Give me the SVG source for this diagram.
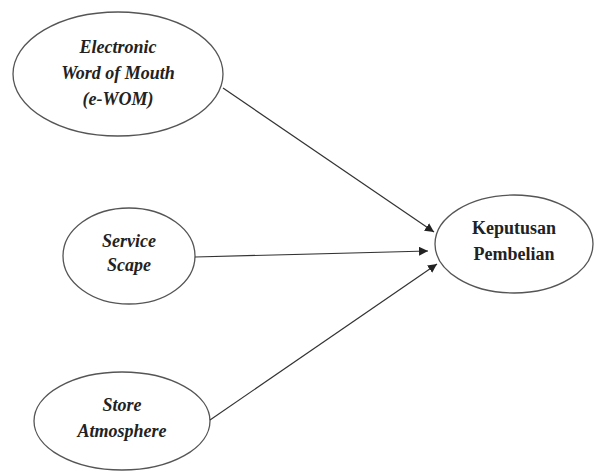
<svg xmlns="http://www.w3.org/2000/svg" width="598" height="475" viewBox="0 0 598 475">
<style>
.node ellipse{fill:#fff;stroke:#555;stroke-width:1.3}
.t{font-family:"Liberation Serif","DejaVu Serif",serif;font-size:18px;font-weight:bold;fill:#222;text-anchor:middle}
.i{font-style:italic}
.edge{stroke:#333;stroke-width:1.2;fill:none;marker-end:url(#ah)}
</style>
<defs>
<marker id="ah" viewBox="0 0 10 10" refX="10" refY="5" markerWidth="9" markerHeight="9" markerUnits="userSpaceOnUse" orient="auto">
<path d="M0,0 L10,5 L0,10 z" fill="#222"/>
</marker>
</defs>
<rect width="598" height="475" fill="#fff"/>
<g id="n1" class="node">
<ellipse cx="118" cy="74" rx="105" ry="62"/>
<text class="t i" x="118" y="53">Electronic</text>
<text class="t i" x="118" y="79">Word of Mouth</text>
<text class="t i" x="118" y="105">(e-WOM)</text>
</g>
<g id="n2" class="node">
<ellipse cx="129" cy="256" rx="66" ry="48"/>
<text class="t i" x="129" y="247">Service</text>
<text class="t i" x="129" y="271">Scape</text>
</g>
<g id="n3" class="node">
<ellipse cx="122" cy="421" rx="88" ry="49"/>
<text class="t i" x="122" y="411">Store</text>
<text class="t i" x="122" y="437">Atmosphere</text>
</g>
<g id="n4" class="node">
<ellipse cx="514" cy="244" rx="79" ry="49"/>
<text class="t" x="514" y="234">Keputusan</text>
<text class="t" x="514" y="260">Pembelian</text>
</g>
<g id="edges">
<line class="edge" x1="223" y1="88" x2="434" y2="232"/>
<line class="edge" x1="195" y1="257" x2="428" y2="251"/>
<line class="edge" x1="210" y1="420" x2="437" y2="264"/>
</g>
</svg>
